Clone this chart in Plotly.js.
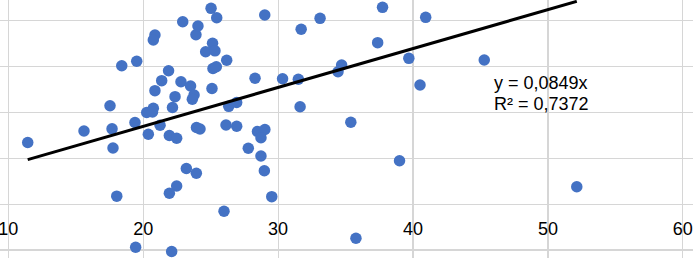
<!DOCTYPE html>
<html>
<head>
<meta charset="utf-8">
<script src="https://cdn.plot.ly/plotly-3.0.1.min.js"></script>
<style>html,body{margin:0;padding:0;background:#fff}#chart{width:693px;height:258px}</style>
</head>
<body>
<div id="chart"></div>
<script>
// Data
const xValues = [11.44,15.61,17.54,17.69,17.76,18.04,18.41,19.52,19.39,19.44,
  20.26,20.75,20.69,20.38,20.87,20.75,20.87,21.25,21.37,21.88,
  21.94,22.17,22.36,22.48,22.48,21.94,22.11,22.80,22.93,23.20,
  23.51,23.77,23.64,23.95,24.21,23.94,23.91,24.06,24.63,25.03,
  25.10,25.14,25.32,25.17,25.42,25.45,25.99,26.14,26.19,26.34,
  26.93,26.93,27.79,28.29,28.47,29.02,28.73,28.73,28.98,29.01,
  29.53,30.33,31.50,31.63,31.71,33.11,34.44,34.71,35.39,35.77,
  37.38,37.74,39.00,39.69,40.52,40.94,45.28,52.14];
const yValues = [1.346,1.597,2.149,1.645,1.226,0.175,3.022,3.118,1.783,-0.940,
  2.001,2.093,2.012,1.527,3.692,3.583,2.477,1.722,2.695,2.913,
  1.499,2.110,2.346,1.440,0.397,0.240,-1.032,2.673,3.980,0.779,
  2.579,2.383,2.289,1.674,1.641,0.676,3.698,3.888,3.327,4.274,
  2.525,3.511,3.347,2.961,2.998,4.069,-0.153,1.728,3.140,2.136,
  2.219,1.700,1.220,2.747,1.586,1.630,1.450,1.052,0.731,4.128,
  0.164,2.738,2.727,2.127,3.818,4.056,2.891,3.037,1.787,-0.742,
  3.524,4.296,0.947,3.183,2.601,4.078,3.146,0.380];
const trendSlope = 0.0849;
const equationLabel = "y = 0,0849x";
const r2Label = "R² = 0,7372";
const xTickValues = [10, 20, 30, 40, 50, 60];
const xTickLabels = ["10", "20", "30", "40", "50", "60"];

const xMin = Math.min(...xValues);
const xMax = Math.max(...xValues);

const traces = [
  {
    type: 'scatter', mode: 'markers', x: xValues, y: yValues,
    marker: {color: '#4472C4', size: 11.5, line: {width: 0}},
    hoverinfo: 'skip', cliponaxis: true
  },
  {
    type: 'scatter', mode: 'lines', x: [xMin, xMax], y: [trendSlope * xMin, trendSlope * xMax],
    line: {color: '#000000', width: 3}, hoverinfo: 'skip'
  }
];

const font = {family: 'Liberation Sans, Arial, sans-serif', size: 18, color: '#000000'};

const layout = {
  width: 693, height: 258,
  margin: {l: 0, r: 0, t: 0, b: 0, pad: 0},
  paper_bgcolor: '#ffffff', plot_bgcolor: '#ffffff',
  showlegend: false,
  font: font,
  xaxis: {
    range: [9.385, 60.755], tickvals: xTickValues, ticktext: xTickLabels,
    showgrid: true, gridcolor: '#d6d6d6', gridwidth: 1.2,
    zeroline: false, showline: false,
    anchor: 'free', position: 0.2085,
    ticks: 'outside', ticklen: 8, tickcolor: 'rgba(0,0,0,0)',
    ticklabeloverflow: 'allow',
    tickfont: font, fixedrange: true
  },
  yaxis: {
    range: [-1.174, 4.4556], dtick: 1, tick0: 0,
    showgrid: true, gridcolor: '#d6d6d6', gridwidth: 1.2,
    zeroline: false, showline: false, showticklabels: false, fixedrange: true
  },
  annotations: [
    {x: 45.93, y: (204.2 - 82.5) / 45.83, xref: 'x', yref: 'y', text: equationLabel,
     showarrow: false, xanchor: 'left', yanchor: 'middle', font: font, borderpad: 0},
    {x: 45.93, y: (204.2 - 103.5) / 45.83, xref: 'x', yref: 'y', text: r2Label,
     showarrow: false, xanchor: 'left', yanchor: 'middle', font: font, borderpad: 0}
  ]
};

Plotly.newPlot('chart', traces, layout, {staticPlot: true, displayModeBar: false});
</script>
</body>
</html>
